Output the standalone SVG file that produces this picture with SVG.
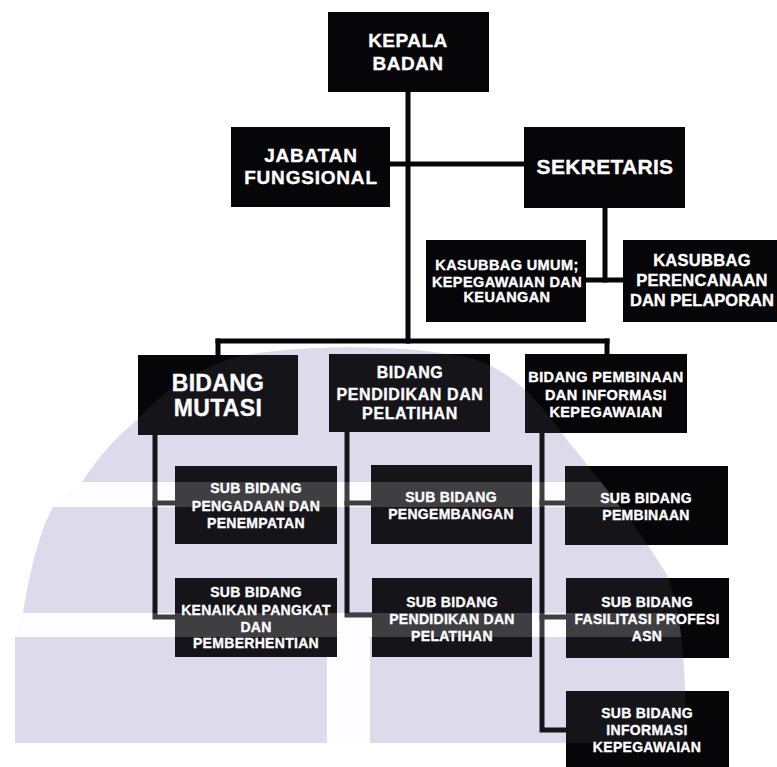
<svg xmlns="http://www.w3.org/2000/svg" width="777" height="767" viewBox="0 0 777 767">
<style>
.box{fill:#060608}
.t{fill:#ffffff;stroke:#ffffff;stroke-width:0.35;font-family:"Liberation Sans",Arial,sans-serif;font-weight:bold;text-anchor:middle}
.s{font-size:14px;letter-spacing:0.3px}
.ln{stroke:#060608;stroke-width:5;fill:none;stroke-linecap:square}
.wm{fill:#dcdbeb}
</style>
<defs>
<path id="wmShape" d="M15,743 L15,637 L23,613 C30,570 40,530 53,507 L82,482 C100,455 115,438 137,420 C160,395 190,370 240,356 C300,345 400,343 470,358 C510,370 535,395 567,440 C600,480 640,530 667,575 C680,610 686,650 686,743 Z"/>
<clipPath id="wmClip"><use href="#wmShape"/></clipPath>
</defs>
<rect width="777" height="767" fill="#ffffff"/>
<g id="watermark">
<use href="#wmShape" class="wm"/>
<rect x="0" y="482" width="777" height="25" fill="#ffffff"/>
<rect x="0" y="613" width="777" height="24" fill="#ffffff"/>
<rect x="327" y="637" width="43" height="110" fill="#ffffff"/>
</g>
<g id="connectors">
<path class="ln" d="M408,92 V341"/>
<path class="ln" d="M390,164 H524"/>
<path class="ln" d="M605,208 V280"/>
<path class="ln" d="M586,280 H623"/>
<path class="ln" d="M218,341 H607"/>
<path class="ln" d="M218,341 V355"/>
<path class="ln" d="M607,341 V354"/>
<path class="ln" d="M155,435 V617 H175"/>
<path class="ln" d="M155,503 H175"/>
<path class="ln" d="M347,432 V615 H372"/>
<path class="ln" d="M347,503 H371"/>
<path class="ln" d="M542,433 V730 H566"/>
<path class="ln" d="M542,503 H565"/>
<path class="ln" d="M542,617 H566"/>
</g>
<g id="kepala-badan">
<rect class="box" x="328" y="12" width="161" height="80"/>
<text class="t" x="408" y="47" font-size="19" letter-spacing="0.5">KEPALA</text>
<text class="t" x="408" y="70" font-size="19" letter-spacing="0.5">BADAN</text>
</g>
<g id="jabatan-fungsional">
<rect class="box" x="231" y="127" width="159" height="80"/>
<text class="t" x="311" y="162" font-size="19" letter-spacing="0.8">JABATAN</text>
<text class="t" x="311" y="184" font-size="19" letter-spacing="0.8">FUNGSIONAL</text>
</g>
<g id="sekretaris">
<rect class="box" x="524" y="127" width="161" height="81"/>
<text class="t" x="605" y="174" font-size="21" letter-spacing="0.3">SEKRETARIS</text>
</g>
<g id="kasubbag-umum">
<rect class="box" x="426" y="240" width="160" height="82"/>
<text class="t" x="507" y="270" font-size="14.5" letter-spacing="0.4">KASUBBAG UMUM;</text>
<text class="t" x="507" y="287" font-size="14.5" letter-spacing="0.4">KEPEGAWAIAN DAN</text>
<text class="t" x="507" y="302" font-size="14.5" letter-spacing="0.4">KEUANGAN</text>
</g>
<g id="kasubbag-perencanaan">
<rect class="box" x="623" y="240" width="170" height="82"/>
<text class="t" x="702" y="266" font-size="16.5" letter-spacing="0.3">KASUBBAG</text>
<text class="t" x="702" y="286" font-size="16.5" letter-spacing="0.3">PERENCANAAN</text>
<text class="t" x="702" y="306" font-size="16.5">DAN PELAPORAN</text>
</g>
<g id="bidang-mutasi">
<rect class="box" x="138" y="355" width="160" height="80"/>
<text class="t" x="218" y="391" font-size="23" letter-spacing="0.3">BIDANG</text>
<text class="t" x="218" y="416" font-size="23" letter-spacing="0.3">MUTASI</text>
</g>
<g id="bidang-pendidikan">
<rect class="box" x="329" y="354" width="161" height="78"/>
<text class="t" x="410" y="378" font-size="16" letter-spacing="0.6">BIDANG</text>
<text class="t" x="410" y="400" font-size="16" letter-spacing="0.6">PENDIDIKAN DAN</text>
<text class="t" x="410" y="419" font-size="16" letter-spacing="0.6">PELATIHAN</text>
</g>
<g id="bidang-pembinaan">
<rect class="box" x="525" y="354" width="162" height="79"/>
<text class="t" x="606" y="382" font-size="14.5" letter-spacing="0.4">BIDANG PEMBINAAN</text>
<text class="t" x="606" y="400" font-size="14.5" letter-spacing="0.4">DAN INFORMASI</text>
<text class="t" x="606" y="417" font-size="14.5" letter-spacing="0.4">KEPEGAWAIAN</text>
</g>
<g id="sub-pengadaan">
<rect class="box" x="175" y="466" width="162" height="78"/>
<text class="t s" x="256" y="493">SUB BIDANG</text>
<text class="t s" x="256" y="511">PENGADAAN DAN</text>
<text class="t s" x="256" y="528">PENEMPATAN</text>
</g>
<g id="sub-kenaikan">
<rect class="box" x="175" y="578" width="162" height="79"/>
<text class="t s" x="256" y="597">SUB BIDANG</text>
<text class="t s" x="256" y="615">KENAIKAN PANGKAT</text>
<text class="t s" x="256" y="632">DAN</text>
<text class="t s" x="256" y="648">PEMBERHENTIAN</text>
</g>
<g id="sub-pengembangan">
<rect class="box" x="371" y="465" width="161" height="79"/>
<text class="t s" x="451" y="502">SUB BIDANG</text>
<text class="t s" x="451" y="519">PENGEMBANGAN</text>
</g>
<g id="sub-pendidikan">
<rect class="box" x="372" y="578" width="160" height="79"/>
<text class="t s" x="452" y="607">SUB BIDANG</text>
<text class="t s" x="452" y="624">PENDIDIKAN DAN</text>
<text class="t s" x="452" y="641">PELATIHAN</text>
</g>
<g id="sub-pembinaan">
<rect class="box" x="565" y="466" width="163" height="79"/>
<text class="t s" x="646" y="503">SUB BIDANG</text>
<text class="t s" x="646" y="520">PEMBINAAN</text>
</g>
<g id="sub-fasilitasi">
<rect class="box" x="566" y="578" width="163" height="80"/>
<text class="t s" x="647" y="607">SUB BIDANG</text>
<text class="t s" x="647" y="624">FASILITASI PROFESI</text>
<text class="t s" x="647" y="641">ASN</text>
</g>
<g id="sub-informasi">
<rect class="box" x="566" y="691" width="163" height="84"/>
<text class="t s" x="647" y="718">SUB BIDANG</text>
<text class="t s" x="647" y="735">INFORMASI</text>
<text class="t s" x="647" y="752">KEPEGAWAIAN</text>
</g>
<g id="watermark-overlay" clip-path="url(#wmClip)">
<rect x="0" y="340" width="777" height="427" fill="#dcdbeb" opacity="0.07"/>
<rect x="0" y="482" width="777" height="25" fill="#ffffff" opacity="0.18"/>
<rect x="0" y="613" width="777" height="24" fill="#ffffff" opacity="0.18"/>
</g>
</svg>
